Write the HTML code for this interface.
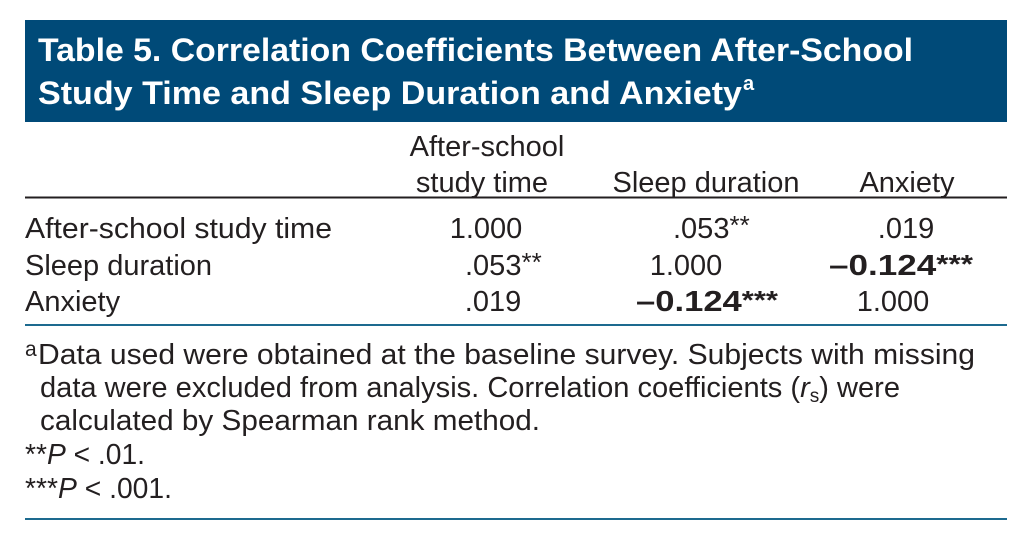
<!DOCTYPE html>
<html><head><meta charset="utf-8"><style>
html,body{margin:0;padding:0;background:#fff;width:1031px;height:540px;overflow:hidden}
svg{display:block}
text{font-family:"Liberation Sans",sans-serif;fill:#231f20}
</style></head><body>
<svg width="1031" height="540" viewBox="0 0 1031 540">
<rect x="25" y="20" width="982" height="102" fill="#004a78"/>
<g font-weight="bold" font-size="32">
<text x="38" y="61" style="fill:#fff" textLength="875" lengthAdjust="spacingAndGlyphs">Table 5. Correlation Coefficients Between After-School</text>
<text x="38" y="104" style="fill:#fff" textLength="704" lengthAdjust="spacingAndGlyphs">Study Time and Sleep Duration and Anxiety</text>
<text x="743" y="90" style="fill:#fff" font-size="20">a</text>
</g>
<g font-size="29">
<text x="487" y="156" text-anchor="middle">After-school</text>
<text x="482" y="192" text-anchor="middle">study time</text>
<text x="706" y="192" text-anchor="middle">Sleep duration</text>
<text x="907" y="192" text-anchor="middle">Anxiety</text>
</g>
<line x1="25" y1="197.5" x2="1007" y2="197.5" stroke="#231f20" stroke-width="2"/>
<g font-size="29">
<text x="25" y="238" textLength="307" lengthAdjust="spacingAndGlyphs">After-school study time</text>
<text x="25" y="275">Sleep duration</text>
<text x="25" y="311">Anxiety</text>
<text x="486" y="238" text-anchor="middle">1.000</text>
<text x="673" y="238">.053<tspan font-size="26" dy="-4">**</tspan></text>
<text x="906" y="238" text-anchor="middle">.019</text>
<text x="465" y="275">.053<tspan font-size="26" dy="-4">**</tspan></text>
<text x="686" y="275" text-anchor="middle">1.000</text>
<text x="829" y="275" font-weight="bold" textLength="144" lengthAdjust="spacingAndGlyphs">–0.124<tspan dy="-2" font-size="26">***</tspan></text>
<text x="493" y="311" text-anchor="middle">.019</text>
<text x="636" y="311" font-weight="bold" textLength="142" lengthAdjust="spacingAndGlyphs">–0.124<tspan dy="-2" font-size="26">***</tspan></text>
<text x="893" y="311" text-anchor="middle">1.000</text>
</g>
<line x1="25" y1="325" x2="1007" y2="325" stroke="#1d6a8f" stroke-width="2"/>
<g font-size="29">
<text x="25" y="356" font-size="21">a</text>
<text x="38" y="364" textLength="937" lengthAdjust="spacingAndGlyphs">Data used were obtained at the baseline survey. Subjects with missing</text>
<text x="40" y="397" textLength="860" lengthAdjust="spacingAndGlyphs">data were excluded from analysis. Correlation coefficients (<tspan font-style="italic">r</tspan><tspan font-size="19" dy="5">s</tspan><tspan dy="-5">) were</tspan></text>
<text x="40" y="430" textLength="500" lengthAdjust="spacingAndGlyphs">calculated by Spearman rank method.</text>
<text x="25" y="464" textLength="120" lengthAdjust="spacingAndGlyphs">**<tspan font-style="italic">P</tspan> &lt; .01.</text>
<text x="25" y="498" textLength="147" lengthAdjust="spacingAndGlyphs">***<tspan font-style="italic">P</tspan> &lt; .001.</text>
</g>
<line x1="25" y1="519" x2="1007" y2="519" stroke="#1d6a8f" stroke-width="2"/>
</svg>
</body></html>
